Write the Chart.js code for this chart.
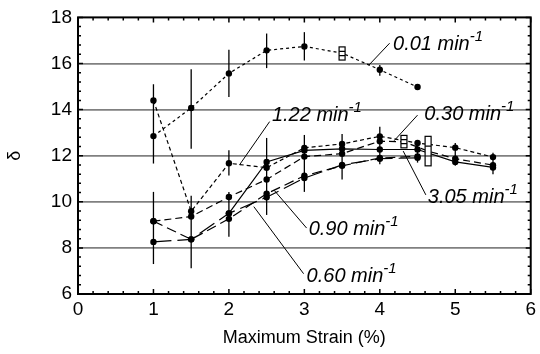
<!DOCTYPE html>
<html>
<head>
<meta charset="utf-8">
<script src="https://cdn.jsdelivr.net/npm/chart.js@4.4.1/dist/chart.umd.min.js"></script>
<style>
  html, body { margin: 0; padding: 0; background: #fff; }
  #wrap { width: 540px; height: 354px; }
</style>
</head>
<body>
<div id="wrap"><canvas id="myChart" width="540" height="354"></canvas></div>
<script>
'use strict';

// strain-rate series
const x001 = [1, 1.5, 2, 2.5, 3, 3.5, 4, 4.5];
const d001 = [12.85, 14.07, 15.57, 16.57, 16.74, 16.45, 15.73, 14.98];

const x122 = [1, 1.5, 2, 2.5, 3, 3.5, 4, 4.5, 5, 5.5];
const d122 = [14.4, 9.59, 11.67, 11.48, 12.34, 12.51, 12.84, 12.55, 12.35, 11.94];

const x030 = [1, 1.5, 2, 2.5, 3, 3.5, 4, 4.32, 4.64, 5, 5.5];
const d030 = [9.16, 9.36, 10.21, 10.97, 11.96, 12.09, 12.63, 12.6, 12.2, 11.87, 11.59];

const x305 = [2, 2.5, 3, 3.5, 4, 4.5, 5, 5.5];
const d305 = [9.5, 11.73, 12.23, 12.3, 12.27, 12.27, 11.73, 11.49];

const x090 = [1, 1.5, 2, 2.5, 3, 3.5, 4, 4.5];
const d090 = [9.16, 8.37, 9.26, 10.35, 11.13, 11.56, 11.9, 11.97];

const x060 = [1, 1.5, 2, 2.5, 3, 3.5, 4, 4.5];
const d060 = [8.26, 8.37, 9.5, 10.2, 11.03, 11.6, 11.87, 11.91];

// vertical error bars (x, low, high)
const errX  = [1, 1, 1.5, 1.5, 2, 2, 2, 2.5, 2.5, 3, 3, 3.5, 4, 4, 4.5, 5, 5.5];
const errLo = [11.66, 7.3, 12.3, 7.12, 14.55, 11.14, 8.48, 15.8, 9.43, 16.13, 10.43, 10.97, 15.47, 11.63, 11.7, 11.56, 11.2];
const errHi = [15.1, 10.43, 15.75, 10.26, 16.6, 12.24, 10.43, 17.3, 12.77, 17.36, 12.9, 12.94, 15.93, 13.26, 12.63, 12.55, 12.13];

// box markers
const boxX  = [3.5, 4.32, 4.64];
const boxLo = [16.15, 12.34, 11.56];
const boxHi = [16.72, 12.88, 12.84];

// labels: text, position of text, leader line start/end
const labelText = ['0.01 min', '1.22 min', '0.30 min', '3.05 min', '0.90 min', '0.60 min'];
const labelX = [4.175, 2.57, 4.59, 4.636, 3.057, 3.03];
const labelY = [16.6, 13.49, 13.54, 9.93, 8.58, 6.52];
const leadX1 = [3.855, 2.14, 4.19, 4.31, 2.6, 2.33];
const leadY1 = [15.93, 11.6, 12.65, 12.2, 10.5, 9.79];
const leadX2 = [4.13, 2.54, 4.50, 4.61, 3.03, 2.99];
const leadY2 = [16.88, 13.48, 13.76, 10.3, 8.86, 6.88];

const xTicks = [0, 1, 2, 3, 4, 5, 6];
const yTicks = [6, 8, 10, 12, 14, 16, 18];

const FONT = "'Liberation Sans', Arial, Helvetica, sans-serif";

const pts = (xs, ys) => xs.map((v, i) => ({ x: v, y: ys[i] }));

const inBox = p => boxX.some((b, i) => b === p.x && p.y >= boxLo[i] && p.y <= boxHi[i]);

const series = (data, dash) => ({
  data: data,
  showLine: true,
  borderColor: '#000',
  backgroundColor: '#000',
  borderWidth: 1.2,
  borderDash: dash,
  pointRadius: c => (c.raw && inBox(c.raw)) ? 0 : 3.2,
  pointBorderWidth: 0,
  pointBackgroundColor: '#000',
  tension: 0
});

const overlay = {
  id: 'overlay',
  afterDatasetsDraw(chart) {
    const { ctx, chartArea: a, scales: { x, y } } = chart;
    ctx.save();
    ctx.strokeStyle = '#000';
    ctx.setLineDash([]);

    // error bars
    ctx.lineWidth = 1.3;
    errX.forEach((v, i) => {
      const px = x.getPixelForValue(v);
      ctx.beginPath();
      ctx.moveTo(px, y.getPixelForValue(errLo[i]));
      ctx.lineTo(px, y.getPixelForValue(errHi[i]));
      ctx.stroke();
    });

    // boxes
    ctx.lineWidth = 1.2;
    boxX.forEach((v, i) => {
      const px = x.getPixelForValue(v);
      const t = y.getPixelForValue(boxHi[i]);
      const b = y.getPixelForValue(boxLo[i]);
      ctx.fillStyle = '#fff';
      ctx.fillRect(px - 3, t, 6, b - t);
      ctx.strokeRect(px - 3, t, 6, b - t);
      ctx.beginPath();
      ctx.moveTo(px - 3, t + (b - t) / 3);
      ctx.lineTo(px + 3, t + (b - t) / 3);
      ctx.moveTo(px - 3, t + 2 * (b - t) / 3);
      ctx.lineTo(px + 3, t + 2 * (b - t) / 3);
      ctx.stroke();
    });

    // frame
    ctx.lineWidth = 2;
    ctx.strokeRect(a.left, a.top, a.right - a.left, a.bottom - a.top);

    // inward minor ticks
    ctx.lineWidth = 1.5;
    ctx.beginPath();
    for (let i = 0; i <= 30; i++) {
      const px = x.getPixelForValue(i * 0.2);
      const len = i % 5 === 0 ? 5 : 3;
      ctx.moveTo(px, a.bottom); ctx.lineTo(px, a.bottom - len);
      ctx.moveTo(px, a.top); ctx.lineTo(px, a.top + len);
    }
    for (let i = 0; i <= 30; i++) {
      const py = y.getPixelForValue(6 + i * 0.4);
      const len = i % 5 === 0 ? 5 : 3;
      ctx.moveTo(a.left, py); ctx.lineTo(a.left + len, py);
      ctx.moveTo(a.right, py); ctx.lineTo(a.right - len, py);
    }
    ctx.stroke();

    // labels with leader lines
    ctx.lineWidth = 1;
    labelText.forEach((t, i) => {
      ctx.beginPath();
      ctx.moveTo(x.getPixelForValue(leadX1[i]), y.getPixelForValue(leadY1[i]));
      ctx.lineTo(x.getPixelForValue(leadX2[i]), y.getPixelForValue(leadY2[i]));
      ctx.stroke();
      const px = x.getPixelForValue(labelX[i]);
      const py = y.getPixelForValue(labelY[i]);
      ctx.fillStyle = '#000';
      ctx.textAlign = 'left';
      ctx.textBaseline = 'alphabetic';
      ctx.font = 'italic 20px ' + FONT;
      ctx.fillText(t, px, py);
      const w = ctx.measureText(t).width;
      ctx.font = 'italic 15px ' + FONT;
      ctx.fillText('-1', px + w, py - 9);
    });
    ctx.restore();
  }
};

const config = {
  type: 'scatter',
  data: {
    datasets: [
      series(pts(x001, d001), [3, 3]),
      series(pts(x122, d122), [4, 3]),
      series(pts(x030, d030), [7, 4]),
      series(pts(x305, d305), []),
      series(pts(x090, d090), [10, 5]),
      series(pts(x060, d060), [18, 6])
    ]
  },
  options: {
    responsive: false,
    animation: false,
    layout: { padding: { top: 12, right: 6, left: 0, bottom: 0 } },
    plugins: { legend: { display: false }, tooltip: { enabled: false } },
    scales: {
      x: {
        type: 'linear',
        min: 0,
        max: 6,
        afterBuildTicks: s => { s.ticks = xTicks.map(v => ({ value: v })); },
        afterFit: s => { s.height = 60; },
        ticks: { color: '#000', font: { family: FONT, size: 19 }, padding: 4 },
        grid: { display: false, drawTicks: false },
        border: { display: false },
        title: {
          display: true,
          text: 'Maximum Strain (%)',
          color: '#000',
          font: { family: FONT, size: 18 },
          padding: { top: 4, bottom: 5 }
        }
      },
      y: {
        type: 'linear',
        min: 6,
        max: 18,
        afterBuildTicks: s => { s.ticks = yTicks.map(v => ({ value: v })); },
        afterFit: s => { s.width = 78; },
        ticks: { color: '#000', font: { family: FONT, size: 19 }, padding: 6 },
        grid: {
          drawTicks: false,
          color: c => (c.tick && c.tick.value > 6 && c.tick.value < 18) ? '#808080' : 'rgba(0,0,0,0)',
          lineWidth: 1.8
        },
        border: { display: false },
        title: {
          display: true,
          text: 'δ',
          color: '#000',
          font: { family: FONT, size: 18 },
          padding: { top: 4, bottom: 2 }
        }
      }
    }
  },
  plugins: [overlay]
};

const myChart = new Chart(document.getElementById('myChart').getContext('2d'), config);
</script>
</body>
</html>
